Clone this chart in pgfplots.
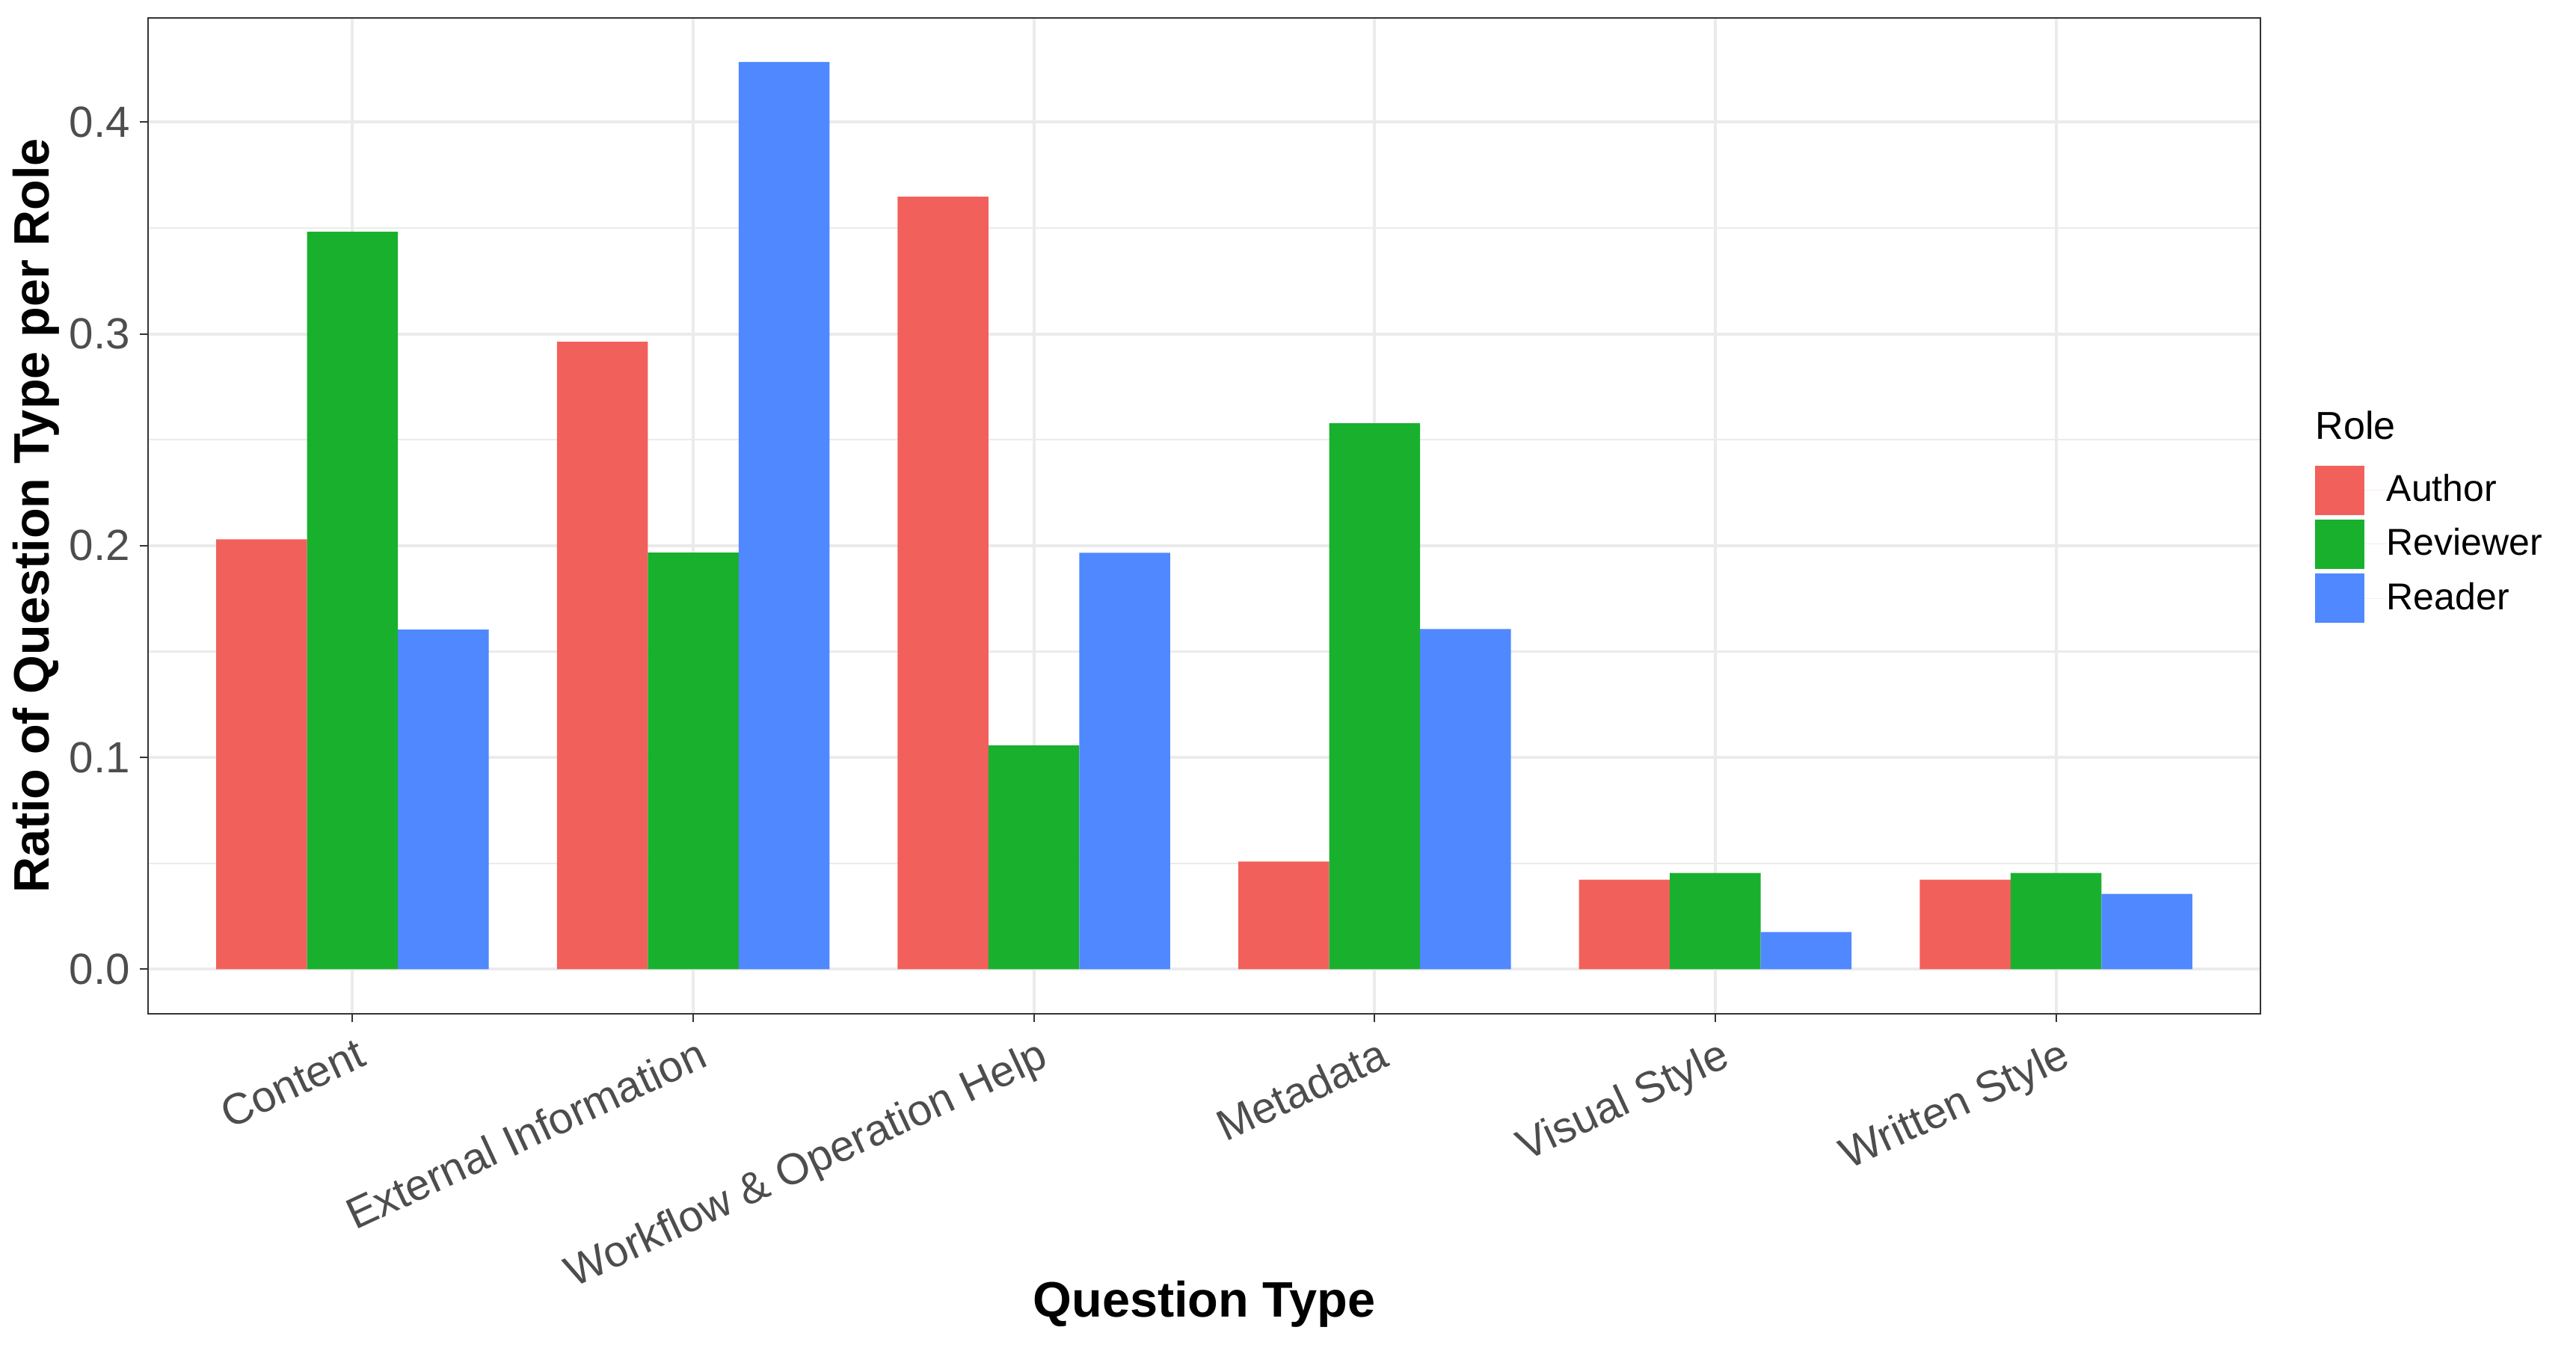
\documentclass[border=0pt]{standalone}
\usepackage{fontspec}
\setmainfont{Liberation Sans}
\usepackage{pgfplots}
\pgfplotsset{compat=1.18}
\definecolor{cA}{HTML}{F2605B}
\definecolor{cR}{HTML}{19B02E}
\definecolor{cD}{HTML}{5088FF}
\definecolor{gridc}{HTML}{EBEBEB}
\definecolor{grey20}{HTML}{333333}
\definecolor{tickc}{HTML}{4D4D4D}
\begin{document}
\begin{tikzpicture}
\begin{axis}[
  scale only axis, width=678pt, height=319.68pt,
  clip=false,
  xmin=-0.6, xmax=5.6, ymin=-0.02104, ymax=0.4492,
  ybar, bar width=0.26667,
  legend image code/.code={\fill[#1] (0pt,-7.9pt) rectangle (15.8pt,7.9pt); \path (0pt,0pt) -- (23pt,0pt);},
  xtick={0,1,2,3,4,5},
  xticklabels={Content, External Information, Workflow \& Operation Help, Metadata, Visual Style, Written Style},
  ytick={0,0.1,0.2,0.3,0.4},
  minor ytick={0.05,0.15,0.25,0.35},
  xmajorgrids, ymajorgrids, yminorgrids,
  major grid style={color=gridc, line width=1pt},
  minor grid style={color=gridc, line width=0.55pt},
  axis line style={color=grey20, line width=0.5pt},
  tick align=outside, xtick pos=bottom, ytick pos=left,
  major tick length=2.64pt, minor tick length=0pt,
  tick style={color=grey20, line width=0.5pt},
  ticklabel style={font=\fontsize{14}{16}\selectfont, color=tickc},
  /pgf/number format/assume math mode=true,
  yticklabel style={/pgf/number format/fixed, /pgf/number format/fixed zerofill, /pgf/number format/precision=1},
  yticklabel style={anchor=east, inner sep=0pt, xshift=-3pt},
  xticklabel style={rotate=25, anchor=north east, inner sep=0pt, yshift=-4.5pt, xshift=-1pt},
  xlabel={Question Type},
  ylabel={Ratio of Question Type per Role},
  xlabel style={font=\bfseries\fontsize{16}{19}\selectfont, at={(axis description cs:0.5,-0.3048)}, anchor=base},
  ylabel style={font=\bfseries\fontsize{16}{19}\selectfont, at={(axis description cs:-0.0531,0.5)}, anchor=center},
  legend style={at={(axis description cs:1.0258,0.5503)}, anchor=north west, draw=none, fill=none,
    inner sep=0pt, outer sep=0pt, row sep=1.5pt, font=\fontsize{12}{14}\selectfont, nodes={inner sep=0pt}},
  legend cell align=left,
]
\addplot[fill=cA, draw=none, bar shift=-0.26667] coordinates {(0,0.2030) (1,0.2963) (2,0.3648) (3,0.0508) (4,0.0423) (5,0.0423)};
\addlegendentry{Author}
\addplot[fill=cR, draw=none, bar shift=0] coordinates {(0,0.3483) (1,0.1967) (2,0.1057) (3,0.2578) (4,0.0455) (5,0.0455)};
\addlegendentry{Reviewer}
\addplot[fill=cD, draw=none, bar shift=0.26667] coordinates {(0,0.1604) (1,0.4284) (2,0.1966) (3,0.1606) (4,0.0176) (5,0.0356)};
\addlegendentry{Reader}
\node[anchor=base west, inner sep=0pt, font=\fontsize{12.5}{15}\selectfont] at (axis description cs:1.0258,0.5766) {Role};
\path (axis description cs:-0.0701,-0.3326) rectangle (axis description cs:1.1494,1.01802);
\end{axis}
\end{tikzpicture}
\end{document}
